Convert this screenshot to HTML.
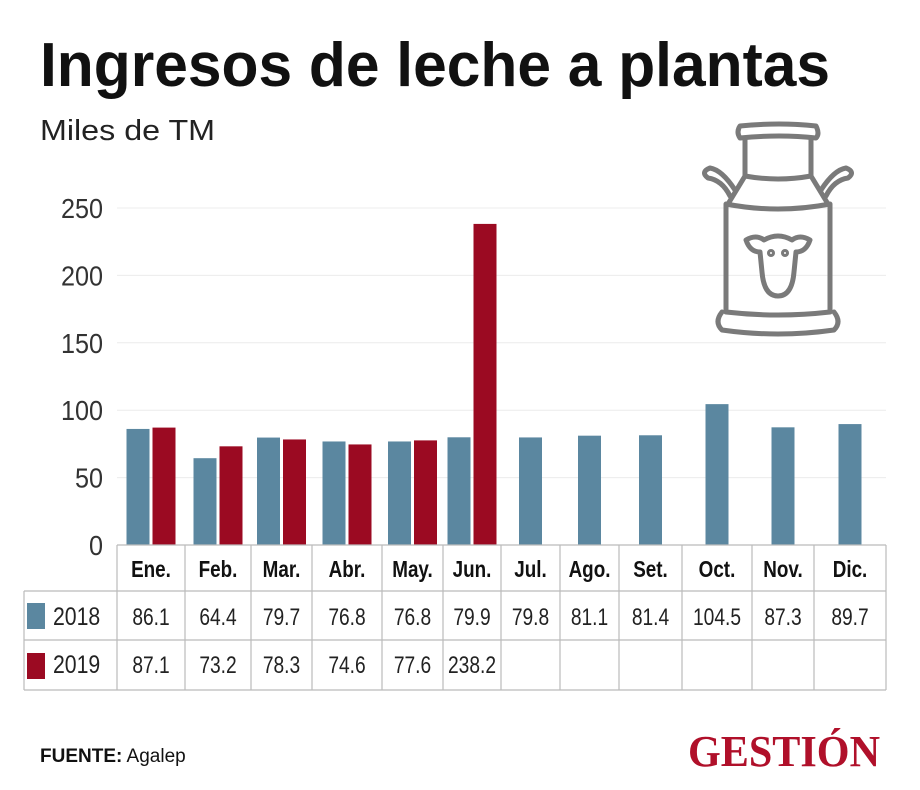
<!DOCTYPE html>
<html><head><meta charset="utf-8"><style>
body{margin:0;background:#fff;}
svg{display:block;font-family:"Liberation Sans Narrow","Liberation Sans",sans-serif;}
</style></head><body>
<svg id="chart" width="920" height="790" viewBox="0 0 920 790" xmlns="http://www.w3.org/2000/svg">
<rect width="920" height="790" fill="#fff"/>
<text x="40" y="86" font-size="62" font-weight="bold" fill="#111" textLength="790" lengthAdjust="spacingAndGlyphs">Ingresos de leche a plantas</text>
<text x="40" y="140" font-size="29" fill="#222" font-family="Liberation Sans, sans-serif" textLength="175" lengthAdjust="spacingAndGlyphs">Miles de TM</text>
<g id="grid"></g>
<g id="bars"></g>
<g id="table"></g>
<g fill="none" stroke="#7a7a7a" stroke-width="5" stroke-linecap="round" stroke-linejoin="round">
<path d="M740 126 Q780 122 816 126 Q820 134 816 138 Q780 134 740 138 Q736 132 740 126Z"/>
<path d="M745 138 L745 176 M811 138 L811 176"/>
<path d="M745 176 Q778 182 811 176"/>
<path d="M745 176 L728 204 M811 176 L828 204"/>
<path d="M735 190 Q722 170 710 168 Q700 172 708 178 Q722 180 730 196"/>
<path d="M821 190 Q834 170 846 168 Q856 172 848 178 Q834 180 826 196"/>
<path d="M726 204 Q778 214 830 204 L830 312 Q778 318 726 312Z"/>
<path d="M722 312 Q714 322 722 330 Q778 338 834 330 Q842 322 834 312"/>
<path d="M746 240 Q756 234 764 240 Q778 232 792 240 Q800 234 810 240 Q806 252 796 252 L794 272 Q792 296 778 296 Q764 296 762 272 L760 252 Q750 252 746 240Z"/>
<circle cx="771" cy="253" r="1.5"/><circle cx="785" cy="253" r="1.5"/>
</g>
<text x="40" y="762" font-size="19" font-family="Liberation Sans, sans-serif" fill="#111"><tspan font-weight="bold">FUENTE:</tspan> Agalep</text>
<text x="688" y="766" font-size="44" font-weight="bold" fill="#b0102a" font-family="Liberation Serif, serif" textLength="192" lengthAdjust="spacingAndGlyphs">GESTIÓN</text>
</svg>
<script>
const months = ["Ene.","Feb.","Mar.","Abr.","May.","Jun.","Jul.","Ago.","Set.","Oct.","Nov.","Dic."];
const values2018 = [86.1,64.4,79.7,76.8,76.8,79.9,79.8,81.1,81.4,104.5,87.3,89.7];
const values2019 = [87.1,73.2,78.3,74.6,77.6,238.2,null,null,null,null,null,null];
const yTicks = [0,50,100,150,200,250];
const NS="http://www.w3.org/2000/svg";
const colEdges=[117,185,251,312,382,443,501,560,619,682,752,814,886];
const y0=545;
function yPos(v){return y0 - v*(545-208)/250;}
function mk(tag,attrs,parent){const e=document.createElementNS(NS,tag);for(const k in attrs)e.setAttribute(k,attrs[k]);parent.appendChild(e);return e;}
function sq(x,y,sx,attrs,parent){const t=mk('text',Object.assign({x:0,y:0,transform:'translate('+x+','+y+') scale('+sx+',1)'},attrs),parent);return t;}
const grid=document.getElementById('grid');
yTicks.forEach(t=>{
  if(t>0){const l=mk('line',{x1:117,x2:886,y1:yPos(t),y2:yPos(t),stroke:'#ececec','stroke-width':1},grid);
  
  }
  const tx=sq(103,yPos(t)+10,0.9,{'font-size':28,'text-anchor':'end',fill:'#333','font-family':'Liberation Sans, sans-serif'},grid);
  tx.textContent=t;
  
  
});
const bars=document.getElementById('bars');
const bw=23;
months.forEach((m,i)=>{
  const c=(colEdges[i]+colEdges[i+1])/2;
  const has19=values2019[i]!=null;
  const x18=has19?c-bw-1.5:c-bw/2;
  const b=mk('rect',{x:x18,y:yPos(values2018[i]),width:bw,height:y0-yPos(values2018[i]),fill:'#5b87a0'},bars);
  
  
  if(has19){
    const r=mk('rect',{x:c+1.5,y:yPos(values2019[i]),width:bw,height:y0-yPos(values2019[i]),fill:'#9b0a22'},bars);
    
    
  }
});
const tb=document.getElementById('table');
const st={stroke:'#bbb','stroke-width':1.2};
mk('line',Object.assign({x1:117,x2:886,y1:545,y2:545},st),tb);
mk('line',Object.assign({x1:24,x2:886,y1:591,y2:591},st),tb);
mk('line',Object.assign({x1:24,x2:886,y1:640,y2:640},st),tb);
mk('line',Object.assign({x1:24,x2:886,y1:690,y2:690},st),tb);
mk('line',Object.assign({x1:24,x2:24,y1:591,y2:690},st),tb);
colEdges.forEach(x=>mk('line',Object.assign({x1:x,x2:x,y1:545,y2:690},st),tb));
months.forEach((m,i)=>{
  const c=(colEdges[i]+colEdges[i+1])/2;
  const t=sq(c,577,0.82,{'font-size':23,'font-weight':'bold','text-anchor':'middle',fill:'#111'},tb);
  t.textContent=m;
  
  
  const a=sq(c,625,0.8,{'font-size':24,'text-anchor':'middle',fill:'#222'},tb);
  a.textContent=values2018[i].toFixed(1);
  
  
  if(values2019[i]!=null){
    const b=sq(c,673,0.8,{'font-size':24,'text-anchor':'middle',fill:'#222'},tb);
    b.textContent=values2019[i].toFixed(1);
    
    
  }
});
[['2018','#5b87a0',625,603],['2019','#9b0a22',673,653]].forEach(([lab,col,ty,ry])=>{
  const r=mk('rect',{x:27,y:ry,width:18,height:26,fill:col},tb);
  
  
  const t=sq(53,ty,0.85,{'font-size':25,fill:'#222'},tb);
  t.textContent=lab;
  
  
});
</script>
</body></html>
